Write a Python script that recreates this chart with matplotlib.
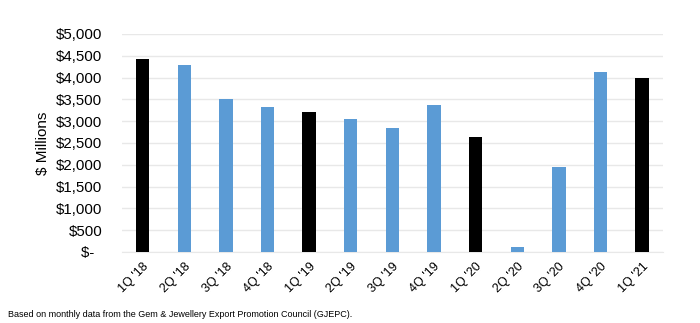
import matplotlib.pyplot as plt
import numpy as np

plt.rcParams['font.family'] = ['Liberation Sans', 'DejaVu Sans']

quarters = ["1Q '18", "2Q '18", "3Q '18", "4Q '18", "1Q '19", "2Q '19", "3Q '19",
            "4Q '19", "1Q '20", "2Q '20", "3Q '20", "4Q '20", "1Q '21"]
exports = [4430, 4290, 3500, 3330, 3210, 3050, 2840, 3360, 2630, 120, 1950, 4130, 4000]
is_first_quarter = [True, False, False, False, True, False, False, False, True,
                    False, False, False, True]

fig = plt.figure(figsize=(7, 3.23), dpi=100)
ax = fig.add_axes([0.174, 0.22, 0.773, 0.675])

colors = ['black' if q1 else '#5B9BD5' for q1 in is_first_quarter]
x = np.arange(len(quarters))
ax.bar(x, exports, width=0.32, color=colors, zorder=3)

ax.set_xlim(-0.5, len(quarters) - 0.5)
ax.set_ylim(0, 5000)
yticks = np.arange(0, 5001, 500)
ax.set_yticks(yticks)
ax.set_yticklabels(['$-  '] + ['${:,}'.format(v) for v in yticks[1:]], fontsize=10.8)
ax.set_xticks(x)
ax.set_xticklabels(quarters, rotation=45, ha='right', rotation_mode='anchor', fontsize=9)
ax.set_ylabel('$ Millions', fontsize=11, labelpad=4)

ax.grid(axis='y', color='#e8e8e8', linewidth=1, zorder=0)
for side in ['top', 'right', 'left']:
    ax.spines[side].set_visible(False)
ax.spines['bottom'].set_color('#e8e8e8')
ax.tick_params(axis='both', length=0)
ax.tick_params(axis='y', pad=14)
ax.tick_params(axis='x', pad=6)

fig.text(0.011, 0.02, 'Based on monthly data from the Gem & Jewellery Export Promotion Council (GJEPC).',
         fontsize=6.5)

fig.savefig('out.png', dpi=100)
